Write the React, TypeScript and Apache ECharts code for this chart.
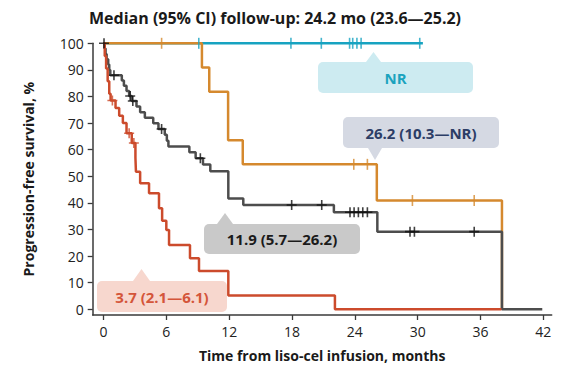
import React, { useEffect, useRef } from "react";
import * as echarts from "echarts";

// ---- Axis ticks ----
const xTicks = [0, 6, 12, 18, 24, 30, 36, 42];
const yTicks = [0, 10, 20, 30, 40, 50, 60, 70, 80, 90, 100];

// ---- NR curve (teal) ----
const nrTimes = [0, 30.5];
const nrSurv = [100, 100];
const nrCensorTimes = [9.1, 17.9, 20.8, 23.5, 23.8, 24.2, 24.6, 30.2];
const nrCensorSurv = [100, 100, 100, 100, 100, 100, 100, 100];

// ---- 26.2 mo curve (orange) ----
const orTimes = [0, 9.4, 10.1, 11.9, 13.3, 26.1, 38.05];
const orSurv = [100, 90.9, 81.8, 63.6, 54.5, 40.9, 0];
const orCensorTimes = [5.55, 23.9, 25.2, 29.5, 35.4];
const orCensorSurv = [100, 54.5, 54.5, 40.9, 40.9];

// ---- 11.9 mo curve (grey) ----
const grTimes = [0, 0.1, 0.2, 0.3, 0.45, 0.55, 0.65, 1.75, 1.95, 2.2, 2.45, 2.7, 3.15, 3.5, 3.95, 4.75, 5.25, 5.85, 6.05, 6.2, 8.2, 8.8, 9.5, 10.2, 11.92, 13.35, 22.0, 26.15, 38.05, 41.9];
const grSurv = [100, 98, 96, 94, 92, 90, 88, 86, 84, 82.1, 80.2, 78.3, 76.2, 74.1, 72, 69.9, 67.8, 65.6, 63.4, 61.2, 59, 56.8, 54.4, 51.9, 41.7, 39.2, 36.5, 29.2, 0, 0];
const grCensorTimes = [0.05, 1.0, 2.55, 2.8, 5.55, 9.25, 17.97, 20.84, 23.54, 23.93, 24.34, 24.76, 25.2, 29.27, 29.69, 35.4];
const grCensorSurv = [100, 88, 80.2, 78.3, 67.8, 56.8, 39.2, 39.2, 36.5, 36.5, 36.5, 36.5, 36.5, 29.2, 29.2, 29.2];

// ---- 3.7 mo curve (red) ----
const rdTimes = [0, 0.12, 0.25, 0.4, 0.55, 0.68, 1.15, 1.5, 1.85, 2.2, 2.7, 3.05, 3.1, 3.5, 4.35, 5.3, 5.6, 6.0, 6.26, 8.26, 9.12, 11.92, 22.1, 38.0];
const rdSurv = [100, 95.2, 90.5, 85.7, 81, 78.5, 75.7, 72.8, 70, 66.2, 62.5, 57, 51.7, 47.4, 43.6, 38, 33.3, 29.8, 24.2, 19.2, 14.4, 5.2, 0, 0];
const rdCensorTimes = [0.85, 2.45, 2.9];
const rdCensorSurv = [78.5, 66.2, 62.5];

const zip = (a: number[], b: number[]) => a.map((v, i) => [v, b[i]]);

const TEAL = "#17a3c1";
const ORANGE = "#d5892e";
const GREY = "#4d4d4d";
const RED = "#cc4b2c";
const FONT = "'Open Sans', 'Noto Sans', sans-serif";

const CROSS = "path://M4.2,0L5.8,0L5.8,10L4.2,10Z M0,4.2L10,4.2L10,5.8L0,5.8Z";
const VTICK = "path://M0,0L1,0L1,10L0,10Z";

function callout(
  x: number, y: number, w: number, h: number, fill: string,
  tri: number[][], text: string, color: string
) {
  return {
    type: "group",
    children: [
      { type: "rect", shape: { x, y, width: w, height: h, r: 5 }, style: { fill } },
      { type: "polygon", shape: { points: tri }, style: { fill } },
      {
        type: "text",
        x: x + w / 2,
        y: y + h / 2,
        style: {
          text,
          fill: color,
          font: `bold 15px ${FONT}`,
          align: "center",
          verticalAlign: "middle",
        },
      },
    ],
  };
}

export default function App() {
  const ref = useRef<HTMLDivElement>(null);
  useEffect(() => {
    if (!ref.current) return;
    const chart = echarts.init(ref.current, null, { renderer: "svg" });
    const lineSeries = (data: number[][], color: string, name: string) => ({
      type: "line",
      name,
      data,
      step: "end",
      symbol: "none",
      lineStyle: { color, width: 2.5 },
      z: 2,
    });
    const censorSeries = (data: number[][], color: string, symbol: string, size: number[], name: string) => ({
      type: "scatter",
      name,
      data,
      symbol,
      symbolSize: size,
      itemStyle: { color },
      z: 3,
    });
    chart.setOption({
      animation: false,
      grid: { left: 92.7, right: 15.3, top: 43.3, bottom: 54, containLabel: false, outerBoundsMode: "none" },
      xAxis: {
        type: "value",
        min: -1.03,
        max: 42.8,
        splitLine: { show: false },
        axisLine: { show: true, onZero: false, lineStyle: { color: "#3a3a3a", width: 1.5 } },
        axisTick: { show: true, customValues: xTicks, length: 5, lineStyle: { color: "#3a3a3a", width: 1.3 } },
        axisLabel: { customValues: xTicks, fontSize: 14, color: "#222", fontFamily: FONT, margin: 9 },
        name: "Time from liso-cel infusion, months",
        nameLocation: "middle",
        nameGap: 33,
        nameTextStyle: { fontSize: 14, fontWeight: "bold", color: "#1a1a1a", fontFamily: FONT },
      },
      yAxis: {
        type: "value",
        min: -2.14,
        max: 100,
        splitLine: { show: false },
        axisLine: { show: true, onZero: false, lineStyle: { color: "#3a3a3a", width: 1.5 } },
        axisTick: { show: true, customValues: yTicks, length: 5, lineStyle: { color: "#3a3a3a", width: 1.3 } },
        axisLabel: { customValues: yTicks, fontSize: 14, color: "#222", fontFamily: FONT, margin: 9 },
        name: "Progression-free survival, %",
        nameLocation: "middle",
        nameGap: 57,
        nameTextStyle: { fontSize: 14, fontWeight: "bold", color: "#1a1a1a", fontFamily: FONT },
      },
      series: [
        lineSeries(zip(nrTimes, nrSurv), TEAL, "NR"),
        lineSeries(zip(orTimes, orSurv), ORANGE, "26.2"),
        lineSeries(zip(grTimes, grSurv), GREY, "11.9"),
        lineSeries(zip(rdTimes, rdSurv), RED, "3.7"),
        censorSeries(zip(nrCensorTimes, nrCensorSurv), TEAL, VTICK, [1.6, 11], "NR censored"),
        censorSeries(zip(orCensorTimes, orCensorSurv), ORANGE, VTICK, [1.6, 11], "26.2 censored"),
        censorSeries(zip(grCensorTimes, grCensorSurv), "#111", CROSS, [10, 10], "11.9 censored"),
        censorSeries(zip(rdCensorTimes, rdCensorSurv), RED, CROSS, [10, 10], "3.7 censored"),
      ],
      graphic: [
        {
          type: "text",
          x: 275,
          y: 18,
          style: {
            text: "Median (95% CI) follow-up: 24.2 mo (23.6\u201425.2)",
            fill: "#1a1a1a",
            font: `bold 16px ${FONT}`,
            align: "center",
            verticalAlign: "middle",
          },
        },
        callout(318, 62, 155, 31, "#cdebf1", [[366, 62], [373.5, 52], [381, 62]], "NR", "#1ba3be"),
        callout(343, 117, 156, 31, "#d5d9e3", [[368, 148], [375, 160], [382, 148]], "26.2 (10.3\u2014NR)", "#2c3d66"),
        callout(204, 224, 156, 30, "#c9c9c9", [[217, 224], [225, 213], [233, 224]], "11.9 (5.7\u201426.2)", "#1a1a1a"),
        callout(97, 281, 130, 31, "#f7d7ce", [[133, 281], [141.5, 269], [150, 281]], "3.7 (2.1\u20146.1)", "#d4553a"),
      ],
    });
    return () => chart.dispose();
  }, []);
  return (
    <div
      ref={ref}
      style={{ position: "fixed", left: 0, top: 0, width: 567, height: 369, background: "#fff" }}
    />
  );
}
